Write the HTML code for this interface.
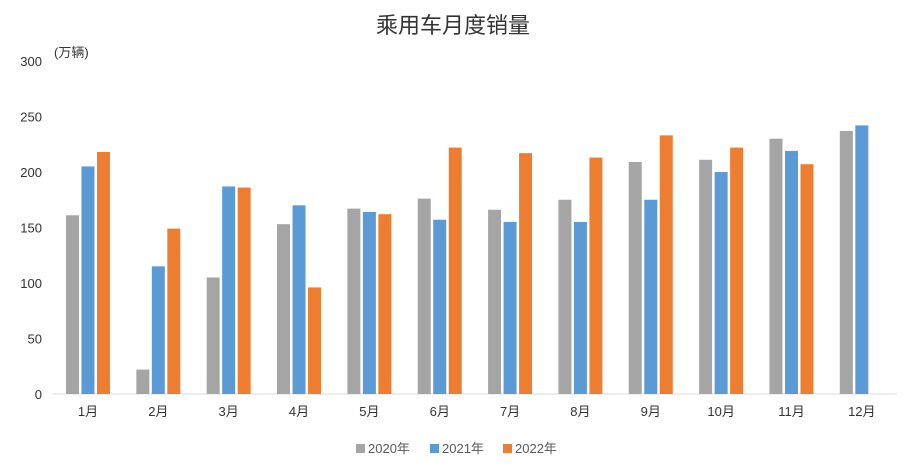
<!DOCTYPE html>
<html><head><meta charset="utf-8"><style>
body{margin:0;background:#fff;}
svg text{font-family:"Liberation Sans","Noto Sans CJK SC",sans-serif;}
</style></head><body>
<svg id="chart" width="906" height="468">
<text x="453" y="33" font-size="22" text-anchor="middle" fill="#333">乘用车月度销量</text>
<text x="54" y="57" font-size="13" fill="#333">(万辆)</text>
<g id="axes"></g><g id="bars"></g>
<g>
<rect x="356" y="444" width="9" height="9" fill="#a5a5a5"/>
<text x="368" y="453" font-size="13" fill="#595959">2020年</text>
<rect x="430" y="444" width="9" height="9" fill="#5b9bd5"/>
<text x="442" y="453" font-size="13" fill="#595959">2021年</text>
<rect x="503" y="444" width="9" height="9" fill="#ed7d31"/>
<text x="515" y="453" font-size="13" fill="#595959">2022年</text>
</g>
</svg>
<script>
const categories=["1月","2月","3月","4月","5月","6月","7月","8月","9月","10月","11月","12月"];
const s2020=[161,22,105,153,167,176,166,175,209,211,230,237];
const s2021=[205,115,187,170,164,157,155,155,175,200,219,242];
const s2022=[218,149,186,96,162,222,217,213,233,222,207,null];
const yTicks=[0,50,100,150,200,250,300];
const NS="http://www.w3.org/2000/svg";
const x0=52.8,x1=897,yB=394,yT=61,yMax=300;
const bw=(x1-x0)/categories.length;
const y=v=>yB-(v/yMax)*(yB-yT);
const ax=document.getElementById('axes'),bg=document.getElementById('bars');
function mk(t,a,p){const e=document.createElementNS(NS,t);for(const k in a)e.setAttribute(k,a[k]);p.appendChild(e);return e;}
yTicks.forEach(t=>{const e=mk('text',{x:42,y:y(t)+5,'font-size':13,'text-anchor':'end',fill:'#333'},ax);e.textContent=t;

});
const axl=mk('line',{x1:x0,x2:x1,y1:yB,y2:yB,stroke:'#d9d9d9'},ax);


const series=[[s2020,'#a5a5a5','2020'],[s2021,'#5b9bd5','2021'],[s2022,'#ed7d31','2022']];
const w=13,g=2.5;
categories.forEach((c,i)=>{const cx=x0+bw*(i+0.5);
const l=mk('text',{x:cx,y:yB+22,'font-size':13,'text-anchor':'middle',fill:'#333'},ax);l.textContent=c;


series.forEach((s,j)=>{const v=s[0][i];if(v==null)return;
const bx=cx+(j-1)*(w+g)-w/2;
const r=mk('rect',{x:bx,y:y(v),width:w,height:yB-y(v),fill:s[1]},bg);

});});
</script>
</body></html>
